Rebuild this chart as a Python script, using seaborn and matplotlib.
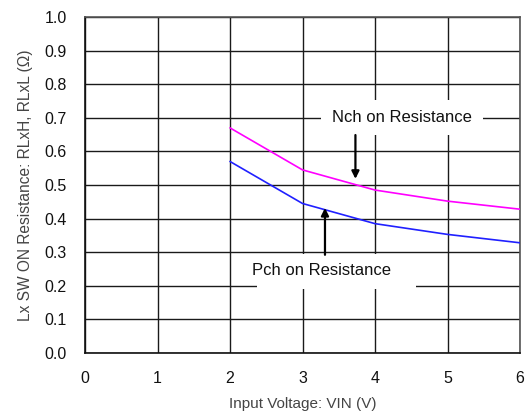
import pandas as pd
import seaborn as sns
import matplotlib.pyplot as plt

# data
vin = [2, 3, 4, 5, 6]
nch_res = [0.67, 0.545, 0.485, 0.452, 0.428]
pch_res = [0.57, 0.445, 0.385, 0.353, 0.328]
x_ticks = [0, 1, 2, 3, 4, 5, 6]
y_ticks = [0.0, 0.1, 0.2, 0.3, 0.4, 0.5, 0.6, 0.7, 0.8, 0.9, 1.0]

df = pd.DataFrame({
    "VIN": vin * 2,
    "R": nch_res + pch_res,
    "ch": ["Nch"] * len(vin) + ["Pch"] * len(vin),
})

sns.set_style("white")
plt.rcParams['font.family'] = ['Liberation Sans', 'DejaVu Sans']

fig = plt.figure(figsize=(5.26, 4.12), dpi=100)
ax = fig.add_axes([0.1616, 0.1432, 0.8270, 0.8155])

sns.lineplot(data=df, x="VIN", y="R", hue="ch",
             palette={"Nch": "#FF00FF", "Pch": "#2020FF"},
             linewidth=1.2, legend=False, ax=ax, zorder=3)

ax.set_xlim(0, 6)
ax.set_ylim(0, 1.0)
ax.set_xticks(x_ticks)
ax.set_yticks(y_ticks)
ax.set_yticklabels([f"{v:.1f}" for v in y_ticks])
ax.grid(True, color="#1a1a1a", linewidth=1.0)
ax.set_axisbelow(True)
for s in ax.spines.values():
    s.set_color("#555555")
    s.set_linewidth(1.2)
ax.spines["left"].set_color("#111111")
ax.spines["bottom"].set_color("#111111")

ax.tick_params(length=0, labelsize=11.5, labelcolor="#111111")
ax.tick_params(axis="y", pad=13)
ax.tick_params(axis="x", pad=13)

ax.set_xlabel("Input Voltage: VIN (V)", fontsize=11, color="#444444", labelpad=8)
ax.set_ylabel("Lx SW ON Resistance: RLxH, RLxL (\u03a9)", fontsize=11.2,
              color="#444444", labelpad=8)

# annotation boxes hide the grid behind them
ax.add_patch(plt.Rectangle((3.26, 0.649), 2.23, 0.104, facecolor="white",
                           edgecolor="none", zorder=2))
ax.add_patch(plt.Rectangle((2.37, 0.19), 2.2, 0.105, facecolor="white",
                           edgecolor="none", zorder=2))
ax.text(4.37, 0.70, "Nch on Resistance", ha="center", va="center",
        fontsize=12, color="#111111", zorder=4)
ax.text(3.26, 0.245, "Pch on Resistance", ha="center", va="center",
        fontsize=12, color="#111111", zorder=4)

ax.annotate("", xy=(3.73, 0.51), xytext=(3.73, 0.657),
            arrowprops=dict(arrowstyle="-|>", color="black", lw=1.6,
                            mutation_scale=11), zorder=4)
ax.annotate("", xy=(3.31, 0.44), xytext=(3.31, 0.284),
            arrowprops=dict(arrowstyle="-|>", color="black", lw=1.6,
                            mutation_scale=11), zorder=4)

fig.savefig("out.png", dpi=100)
